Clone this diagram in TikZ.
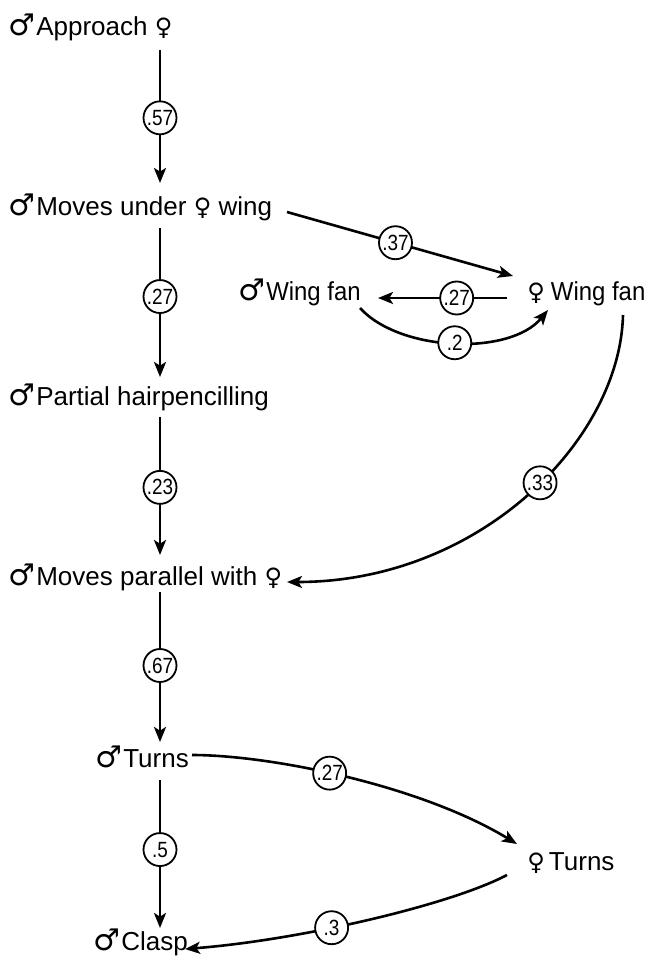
\documentclass[tikz,border=0pt]{standalone}
\usepackage{fontspec}
\setmainfont{Liberation Sans}
\newfontfamily\symfont{DejaVu Sans}
\newfontfamily\condfont[FakeStretch=0.92]{Liberation Sans}
\newfontfamily\numfont[FakeStretch=0.86]{Liberation Sans}
\usetikzlibrary{arrows.meta,calc}
\newcommand{\msym}{{\symfont\fontsize{15}{15}\selectfont ♂}\hspace{0.5pt}}
\newcommand{\fsym}{{\symfont\fontsize{12}{12}\selectfont ♀}}
\begin{document}
\begin{tikzpicture}[x=0.5pt,y=-0.5pt,
  txt/.style={anchor=base west, inner sep=0pt, font=\fontsize{13}{15}\selectfont},
  lab/.style={circle, draw, line width=0.9pt, fill=white, inner sep=0.4pt, minimum size=16.5pt, font=\numfont\fontsize{11}{11}\selectfont},
  conn/.style={line width=1.3pt, -{Stealth[length=7.5pt,width=6pt,inset=1.8pt]}}]
\useasboundingbox (0,0) rectangle (651,959);
\coordinate (colx) at (160,0);
\node[txt] (app) at (8,35) {\msym Approach \fsym};
\node[txt] (mu) at (8,215) {\msym Moves under \fsym\ wing};
\node[txt] (mwf) at (238,300) {\msym{\condfont Wing fan}};
\node[txt] (fwf) at (527,300) {\fsym\hspace{3pt}{\condfont Wing fan}};
\node[txt] (pw) at (8,405) {\msym Partial hairpencilling};
\node[txt] (mp) at (8,585) {\msym Moves parallel with \fsym};
\node[txt] (mt) at (95,767) {\msym Turns};
\node[txt] (ft) at (527,870) {\fsym\hspace{2pt}Turns};
\node[txt] (cl) at (93,950) {\msym Clasp};
% vertical chain
\draw[conn] ($(app.base -| colx)+(0,15)$) -- node[lab,pos=0.51]{.57} ($(mu.base -| colx)+(0,-32)$);
\draw[conn] ($(mu.base -| colx)+(0,13)$) -- node[lab,pos=0.46]{.27} ($(pw.base -| colx)+(0,-28)$);
\draw[conn] ($(pw.base -| colx)+(0,12)$) -- node[lab,pos=0.51]{.23} ($(mp.base -| colx)+(0,-30)$);
\draw[conn] ($(mp.base -| colx)+(0,7)$) -- node[lab,pos=0.49]{.67} ($(mt.base -| colx)+(0,-25)$);
\draw[conn] ($(mt.base -| colx)+(0,13)$) -- node[lab,pos=0.47]{.5} ($(cl.base -| colx)+(0,-22)$);
% wing fan part
\draw[conn] ($(mu.base west)+(279,-3)$) -- node[lab,pos=0.48]{.37} ($(fwf.base west)+(-14,-24)$);
\draw[conn] ($(fwf.base west)+(-20,-2)$) -- node[lab,pos=0.39]{.27} ($(mwf.base west)+(140,-2)$);
\draw[conn] ($(mwf.base west)+(122,8)$) .. controls (400,352) and (510,356) .. node[lab,pos=0.5]{.2} ($(fwf.base west)+(21,10)$);
\draw[conn] ($(fwf.base west)+(96,15)$) .. controls (620,440) and (480,582) .. node[lab,pos=0.46]{.33} ($(mp.base west)+(279,-3)$);
% turns part
\draw[conn] ($(mt.base west)+(97,-12)$) .. controls (270,755) and (420,785) .. node[lab,pos=0.45]{.27} ($(ft.base west)+(-10,-26)$);
\draw[conn] ($(ft.base west)+(-20,5)$) .. controls (450,905) and (300,940) .. node[lab,pos=0.6]{.3} ($(cl.base west)+(92,-1)$);
\end{tikzpicture}
\end{document}
